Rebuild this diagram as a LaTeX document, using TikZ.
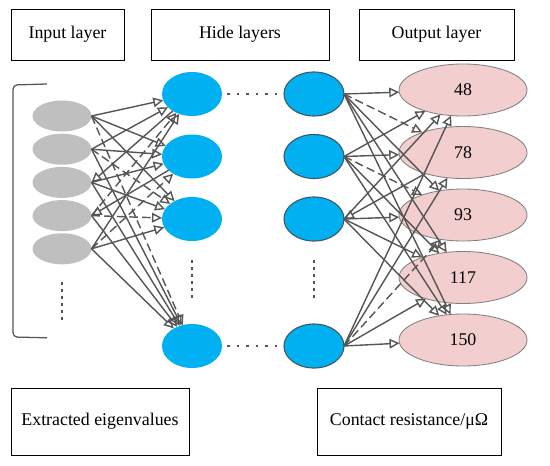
\documentclass[tikz,border=0pt]{standalone}
\usepackage{fontspec}
\setmainfont{Liberation Serif}
\usepackage{xcolor}
\usepackage{tikz}
\usetikzlibrary{arrows.meta, positioning, shapes.geometric}
\definecolor{nodeblue}{RGB}{0,176,240}
\definecolor{inputgray}{RGB}{191,191,191}
\definecolor{outpink}{RGB}{242,206,206}
\definecolor{linegray}{RGB}{85,85,85}
\definecolor{hidborder}{RGB}{60,90,110}

\begin{document}
\begin{tikzpicture}[
    font=\fontsize{12.7}{15}\selectfont,
    layerbox/.style={rectangle, draw, line width=0.6pt, minimum height=1.275cm, align=center},
    inputnode/.style={ellipse, fill=inputgray, minimum width=1.475cm, minimum height=0.775cm,
      inner sep=0pt, outer sep=0pt},
    hidnode/.style={ellipse, fill=nodeblue, minimum width=1.5cm, minimum height=1.1cm,
      inner sep=0pt, outer sep=0pt},
    outnode/.style={ellipse, fill=outpink, draw=gray, line width=0.6pt,
      minimum width=3.2cm, minimum height=1.3cm, inner sep=0pt, outer sep=0pt},
    arrow/.style={linegray, line width=1pt, -{Triangle[open, length=2.5mm, width=2.4mm]}},
    dasharrow/.style={arrow, dash pattern=on 6pt off 3pt},
    hdots/.style={linegray, line width=0.065cm, dash pattern=on 0.065cm off 0.173cm},
    vdots/.style={linegray, line width=0.065cm, dash pattern=on 0.065cm off 0.112cm}
]
\useasboundingbox (0,0) rectangle (13.75,11.625);

% captions
\node[layerbox, minimum width=2.825cm] (inlabel)  at (1.6875,10.7625) {Input layer};
\node[layerbox, minimum width=4.45cm]  (hidlabel) at (6.0,10.7625)    {Hide layers};
\node[layerbox, minimum width=3.875cm] (outlabel) at (10.9125,10.7625) {Output layer};
\node[layerbox, minimum width=4.45cm, minimum height=1.675cm] (featlabel) at (2.5,1.0875)
  {Extracted eigenvalues};
\node[layerbox, minimum width=4.6cm, minimum height=1.675cm]  (reslabel)  at (10.225,1.0875)
  {Contact resistance/μΩ};

% input layer
\node[inputnode] (i1) at (1.55,8.725) {};
\node[inputnode, below=0.055cm of i1] (i2) {};
\node[inputnode, below=0.055cm of i2] (i3) {};
\node[inputnode, below=0.055cm of i3] (i4) {};
\node[inputnode, below=0.055cm of i4] (i5) {};
\coordinate (iend) at (1.55,3.625);
\draw[vdots, shorten <=0.4425cm] (i5) -- (iend);
\draw[linegray, line width=0.9pt, rounded corners=3pt]
  (1.175,9.525) -- (0.325,9.5) -- (0.325,3.2) -- (1.175,3.18);

% hidden layers
\node[hidnode] (h1) at (4.8,9.275) {};
\node[hidnode, below=0.4625cm of h1] (h2) {};
\node[hidnode, below=0.4625cm of h2] (h3) {};
\node[hidnode] (h4) at (4.8,2.975) {};
\node[hidnode, draw=hidborder, line width=0.8pt, right=1.55cm of h1] (g1) {};
\node[hidnode, draw=hidborder, line width=0.8pt, right=1.55cm of h2] (g2) {};
\node[hidnode, draw=hidborder, line width=0.8pt, right=1.55cm of h3] (g3) {};
\node[hidnode, draw=hidborder, line width=0.8pt, right=1.55cm of h4] (g4) {};
\draw[hdots, shorten <=0.125cm, shorten >=0.175cm] (h1) -- (g1);
\draw[hdots, shorten <=0.125cm, shorten >=0.175cm] (h4) -- (g4);
\draw[vdots, shorten <=0.475cm, shorten >=0.65cm] (h3) -- (h4);
\draw[vdots, shorten <=0.475cm, shorten >=0.65cm] (g3) -- (g4);

% output layer
\node[outnode] (o1) at (11.575,9.375) {48};
\node[outnode, below=0.2625cm of o1] (o2) {78};
\node[outnode, below=0.2625cm of o2] (o3) {93};
\node[outnode, below=0.2625cm of o3] (o4) {117};
\node[outnode, below=0.2625cm of o4] (o5) {150};

% input to first hidden layer
\draw[arrow] (i1.east) -- (h1);
\draw[arrow] (i1.east) -- (h2);
\draw[arrow] (i1.east) -- (h3);
\draw[dasharrow] (i1.east) -- (h4);
\draw[arrow] (i2.east) -- (h1);
\draw[arrow] (i2.east) -- (h2);
\draw[dasharrow] (i2.east) -- (h3);
\draw[arrow] (i2.east) -- (h4);
\draw[arrow] (h1) -- (i3.east);
\draw[arrow] (i3.east) -- (h2);
\draw[arrow] (i3.east) -- (h3);
\draw[arrow] (i3.east) -- (h4);
\draw[dasharrow] (i4.east) -- (h1);
\draw[arrow] (h2) -- (i4.east);
\draw[dasharrow] (i4.east) -- (h3);
\draw[arrow] (i4.east) -- (h4);
\draw[arrow] (i5.east) -- (h1);
\draw[dasharrow] (i5.east) -- (h2);
\draw[arrow] (i5.east) -- (h3);
\draw[arrow] (i5.east) -- (h4);

% last hidden layer to output
\draw[arrow] (g1.east) -- (o1);
\draw[dasharrow] (g1.east) -- (o2);
\draw[arrow] (g1.east) -- (o3);
\draw[arrow] (g1.east) -- (o4);
\draw[arrow] (g1.east) -- (o5);
\draw[arrow] (g2.east) -- (o1);
\draw[arrow] (g2.east) -- (o2);
\draw[dasharrow] (g2.east) -- (o3);
\draw[arrow] (g2.east) -- (o4);
\draw[arrow] (g2.east) -- (o5);
\draw[arrow] (g3.east) -- (o1);
\draw[arrow] (o2) -- (g3.east);
\draw[arrow] (g3.east) -- (o3);
\draw[arrow] (g3.east) -- (o4);
\draw[arrow] (g3.east) -- (o5);
\draw[arrow] (g4.east) -- (o1);
\draw[arrow] (g4.east) -- (o2);
\draw[dasharrow] (g4.east) -- (o3);
\draw[arrow] (g4.east) -- (o4);
\draw[arrow] (g4.east) -- (o5);
\end{tikzpicture}
\end{document}
